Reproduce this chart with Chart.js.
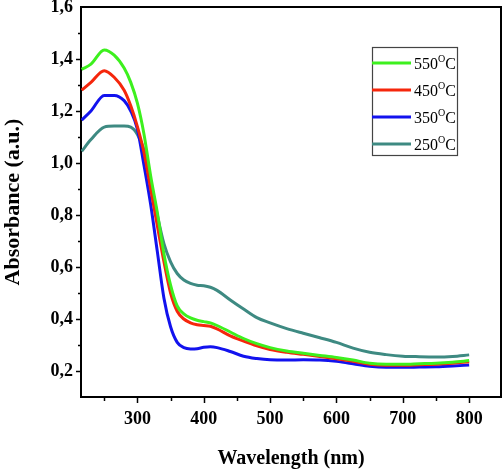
<!DOCTYPE html>
<html>
<head>
<meta charset="utf-8">
<script src="https://cdn.jsdelivr.net/npm/chart.js@4.4.1/dist/chart.umd.min.js"></script>
<style>
  html, body { margin: 0; padding: 0; background: #fff; }
  #wrap { width: 503px; height: 471px; }
</style>
</head>
<body>
<div id="wrap"><canvas id="absChart" width="503" height="471"></canvas></div>
<script>
// Wavelength grid (nm) and absorbance of each annealing temperature
const wavelength = [216, 230, 250, 265, 280, 290, 300, 310, 320, 330, 340, 350, 360, 370, 380, 390, 400, 410, 420, 440, 460, 480, 500, 525, 550, 575, 600, 625, 650, 675, 700, 725, 750, 775, 800];
const abs550 = [1.36, 1.38, 1.435, 1.415, 1.365, 1.31, 1.23, 1.11, 0.95, 0.81, 0.65, 0.53, 0.45, 0.42, 0.404, 0.395, 0.39, 0.385, 0.375, 0.35, 0.325, 0.305, 0.29, 0.277, 0.268, 0.26, 0.252, 0.242, 0.23, 0.226, 0.226, 0.228, 0.23, 0.234, 0.24];
const abs450 = [1.28, 1.31, 1.355, 1.33, 1.28, 1.22, 1.14, 1.04, 0.9, 0.76, 0.62, 0.5, 0.43, 0.4, 0.385, 0.378, 0.375, 0.372, 0.362, 0.335, 0.315, 0.297, 0.283, 0.272, 0.264, 0.256, 0.247, 0.237, 0.226, 0.222, 0.222, 0.224, 0.226, 0.23, 0.236];
const abs350 = [1.165, 1.2, 1.26, 1.26, 1.24, 1.2, 1.13, 0.99, 0.84, 0.66, 0.48, 0.37, 0.31, 0.29, 0.285, 0.286, 0.291, 0.293, 0.29, 0.275, 0.257, 0.248, 0.243, 0.242, 0.243, 0.242, 0.237, 0.228, 0.218, 0.214, 0.214, 0.215, 0.216, 0.219, 0.223];
const abs250 = [1.045, 1.09, 1.138, 1.142, 1.142, 1.138, 1.11, 1.05, 0.93, 0.8, 0.69, 0.62, 0.575, 0.55, 0.537, 0.53, 0.528, 0.522, 0.51, 0.473, 0.438, 0.405, 0.385, 0.363, 0.345, 0.328, 0.31, 0.288, 0.272, 0.263, 0.257, 0.255, 0.254, 0.256, 0.262];
const seriesLabels = ["550", "450", "350", "250"];
const seriesColors = ["#3df01e", "#f5260c", "#1212ee", "#3e8a82"];
const xTickValues = [250, 300, 350, 400, 450, 500, 550, 600, 650, 700, 750, 800];
const yTickValues = [0.2, 0.3, 0.4, 0.5, 0.6, 0.7, 0.8, 0.9, 1.0, 1.1, 1.2, 1.3, 1.4, 1.5];

function toPoints(values) {
  return wavelength.map((w, i) => ({ x: w, y: values[i] }));
}

const allSeries = [abs550, abs450, abs350, abs250];

// frame, outward ticks and the legend box
const framePlugin = {
  id: "frame",
  afterDraw(chart) {
    const ctx = chart.ctx;
    const a = chart.chartArea;
    const xs = chart.scales.x;
    const ys = chart.scales.y;
    ctx.save();
    ctx.strokeStyle = "#000";
    ctx.lineWidth = 2;
    ctx.beginPath();
    ctx.moveTo(a.left, a.top);
    ctx.lineTo(a.right, a.top);
    ctx.lineTo(a.right, a.bottom);
    ctx.stroke();

    ctx.lineWidth = 1.5;
    xTickValues.forEach((v) => {
      const px = Math.round(xs.getPixelForValue(v)) + 0.5;
      const len = v % 100 === 0 ? 6 : 4;
      ctx.beginPath();
      ctx.moveTo(px, a.bottom);
      ctx.lineTo(px, a.bottom + len);
      ctx.stroke();
    });
    yTickValues.forEach((v) => {
      const py = Math.round(ys.getPixelForValue(v)) + 0.5;
      const len = Math.round(v * 10) % 2 === 0 ? 5 : 3;
      ctx.beginPath();
      ctx.moveTo(a.left, py);
      ctx.lineTo(a.left - len, py);
      ctx.stroke();
    });

    // legend
    const bx = 372, by = 47, bw = 85, bh = 108;
    ctx.lineWidth = 1.2;
    ctx.strokeStyle = "#444";
    ctx.strokeRect(bx + 0.5, by + 0.5, bw, bh);
    seriesLabels.forEach((lab, i) => {
      const ly = 63 + i * 27;
      ctx.strokeStyle = seriesColors[i];
      ctx.lineWidth = 3;
      ctx.beginPath();
      ctx.moveTo(bx, ly);
      ctx.lineTo(bx + 39, ly);
      ctx.stroke();
      ctx.fillStyle = "#000";
      ctx.textBaseline = "alphabetic";
      ctx.font = "16px 'Liberation Serif'";
      ctx.fillText(lab, bx + 42, ly + 6);
      let tx = bx + 42 + ctx.measureText(lab).width;
      ctx.font = "10px 'Liberation Serif'";
      ctx.fillText("O", tx, ly - 1);
      tx += ctx.measureText("O").width;
      ctx.font = "16px 'Liberation Serif'";
      ctx.fillText("C", tx, ly + 6);
    });
    ctx.restore();
  },
};

const ctx = document.getElementById("absChart").getContext("2d");
const absChart = new Chart(ctx, {
  type: "line",
  data: {
    datasets: allSeries.map((vals, i) => ({
      label: seriesLabels[i] + "°C",
      data: toPoints(vals),
      borderColor: seriesColors[i],
      backgroundColor: seriesColors[i],
      borderWidth: 3,
      pointRadius: 0,
      cubicInterpolationMode: "monotone",
      fill: false,
    })),
  },
  options: {
    responsive: false,
    animation: false,
    layout: { padding: { top: 7, right: 2, left: 0, bottom: 0 } },
    plugins: {
      legend: { display: false },
      tooltip: { enabled: false },
    },
    scales: {
      x: {
        type: "linear",
        min: 215,
        max: 848,
        afterBuildTicks: (s) => {
          s.ticks = [300, 400, 500, 600, 700, 800].map((v) => ({ value: v }));
        },
        afterFit: (s) => { s.height = 74; s.paddingLeft = 0; s.paddingRight = 0; },
        ticks: {
          autoSkip: false,
          maxRotation: 0,
          color: "#000",
          padding: 12,
          font: { family: "Liberation Serif", size: 18, weight: "bold" },
        },
        grid: { drawOnChartArea: false, drawTicks: false },
        border: { display: true, color: "#000", width: 2 },
        title: {
          display: true,
          text: "Wavelength (nm)",
          color: "#000",
          padding: { top: 16, bottom: 0 },
          font: { family: "Liberation Serif", size: 20, weight: "bold" },
        },
      },
      y: {
        min: 0.1,
        max: 1.6,
        afterBuildTicks: (s) => {
          s.ticks = [0.2, 0.4, 0.6, 0.8, 1.0, 1.2, 1.4, 1.6].map((v) => ({ value: v }));
        },
        afterFit: (s) => { s.width = 81; s.paddingTop = 0; s.paddingBottom = 0; },
        ticks: {
          autoSkip: false,
          color: "#000",
          padding: 8,
          font: { family: "Liberation Serif", size: 18, weight: "bold" },
          callback: (v) => Number(v).toFixed(1).replace(".", ","),
        },
        grid: { drawOnChartArea: false, drawTicks: false },
        border: { display: true, color: "#000", width: 2 },
        title: {
          display: true,
          text: "Absorbance (a.u.)",
          color: "#000",
          padding: { top: 0, bottom: 6 },
          font: { family: "Liberation Serif", size: 22, weight: "bold" },
        },
      },
    },
  },
  plugins: [framePlugin],
});
</script>
</body>
</html>
